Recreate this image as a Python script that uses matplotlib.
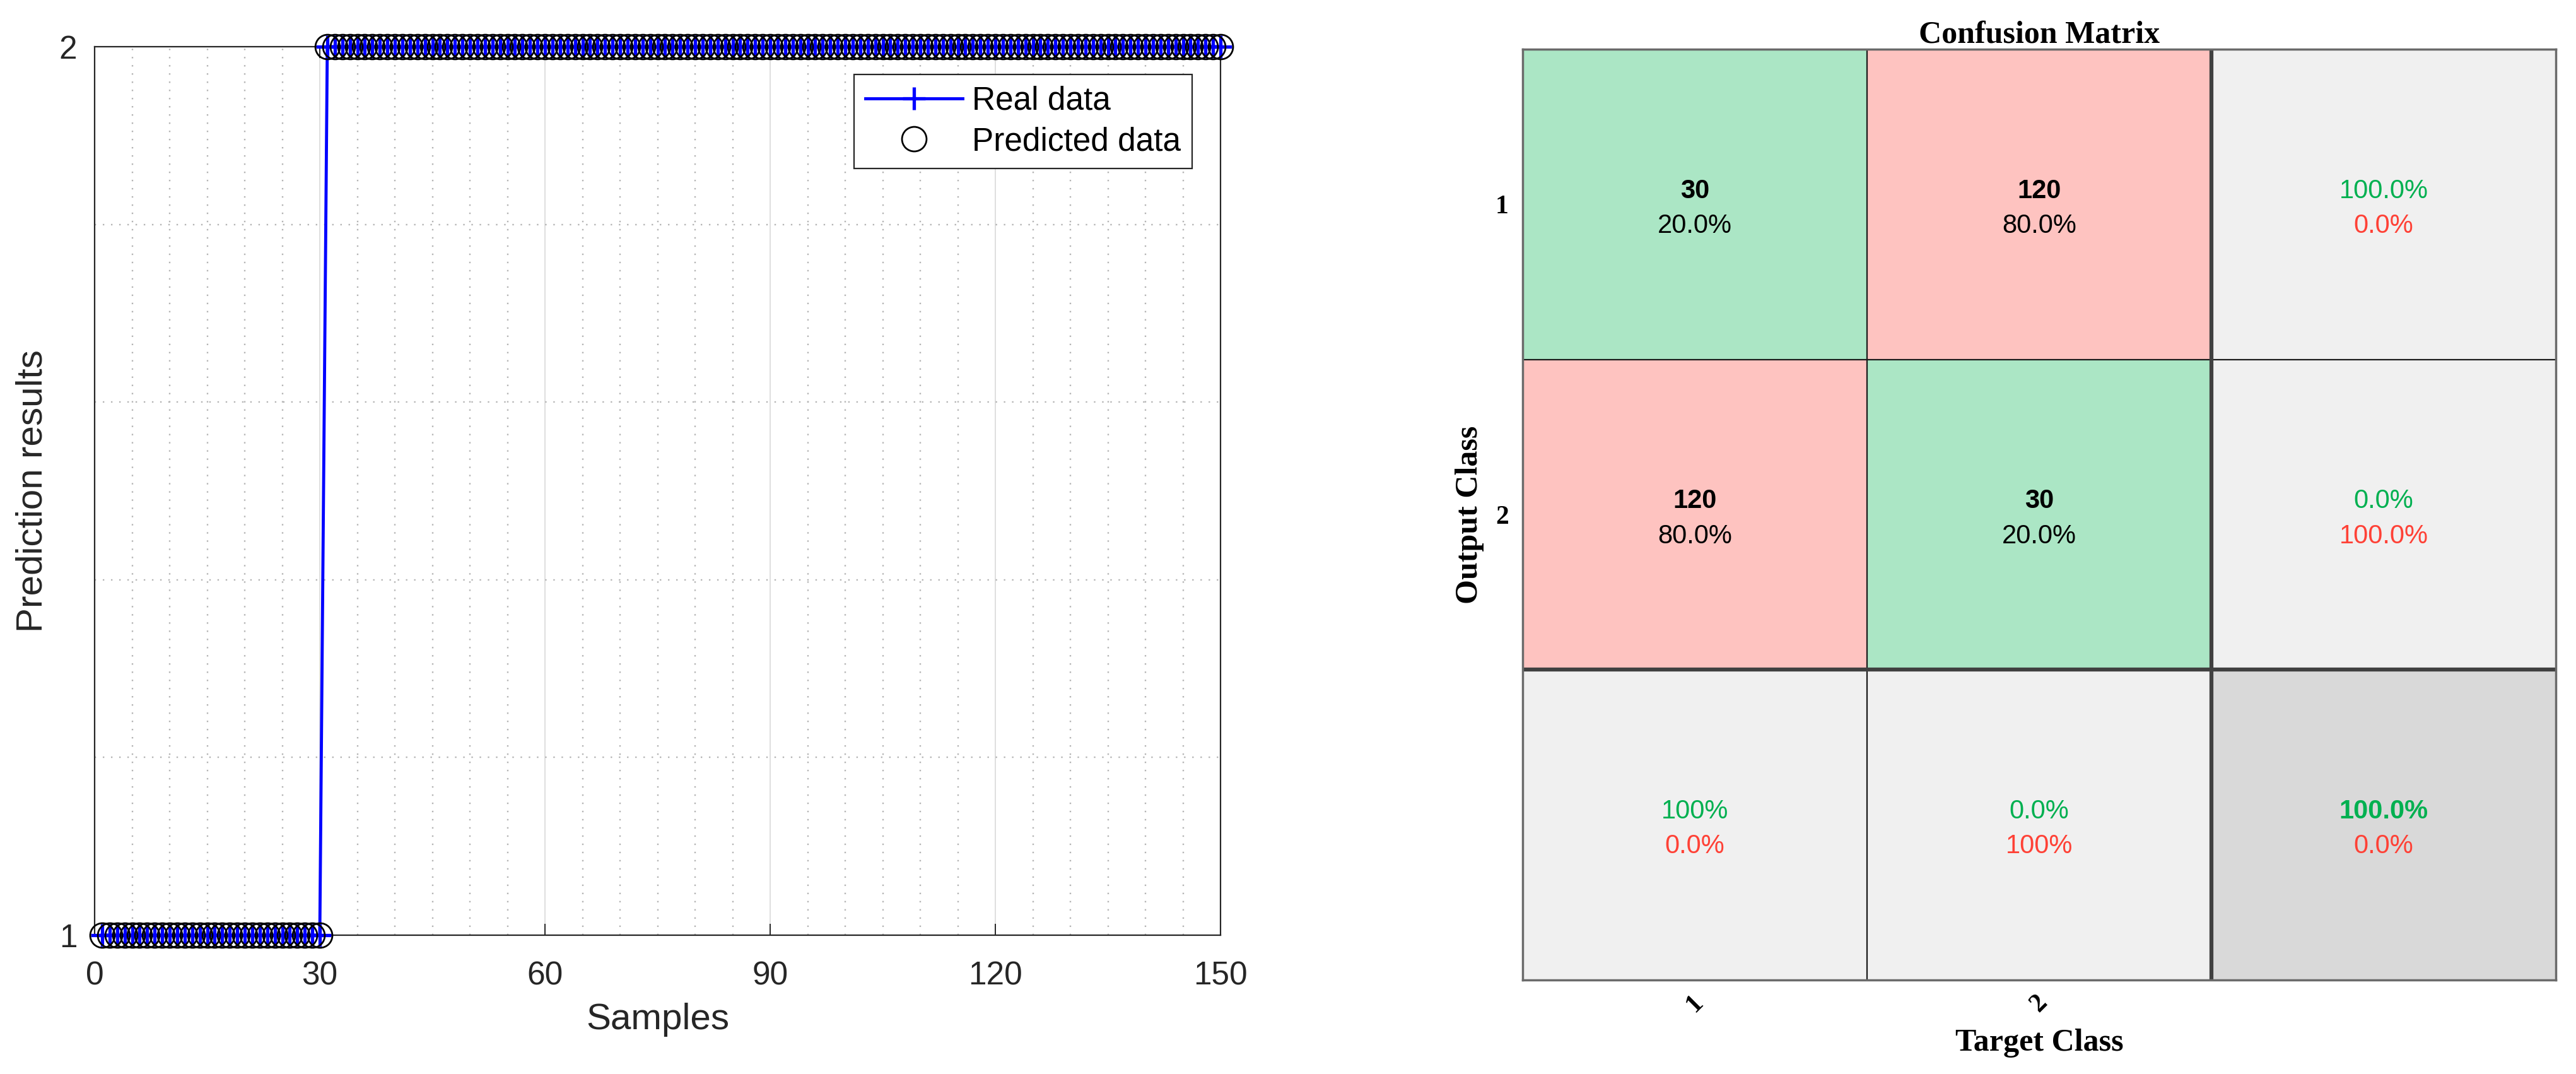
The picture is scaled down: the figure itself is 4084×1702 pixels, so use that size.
import numpy as np
import matplotlib
matplotlib.use("Agg")
import matplotlib.pyplot as plt
from matplotlib.colors import ListedColormap
from matplotlib.ticker import MultipleLocator, FixedLocator

# ---------------- data ----------------
samples = np.arange(1, 151)
real_data = np.repeat([1, 2], [30, 120])
predicted_data = np.repeat([1, 2], [30, 120])
x_ticks = [0, 30, 60, 90, 120, 150]
y_ticks = [1, 2]

class_labels = ["1", "2"]
cm_counts = [[30, 120], [120, 30]]
cm_percent = [["20.0%", "80.0%"], ["80.0%", "20.0%"]]
row_summary_good = ["100.0%", "0.0%"]
row_summary_bad = ["0.0%", "100.0%"]
col_summary_good = ["100%", "0.0%"]
col_summary_bad = ["0.0%", "100%"]
total_good = "100.0%"
total_bad = "0.0%"

SANS = ["Liberation Sans", "DejaVu Sans"]
SERIF = ["Liberation Serif", "DejaVu Serif"]
TXT = "#262626"
GREEN_BG = "#ABE6C5"
RED_BG = "#FEC3C0"
GRAY_BG = "#F0F0F0"
DGRAY_BG = "#D9D9D9"
GREEN_T = "#00B050"
RED_T = "#FF4136"

W, H = 4084, 1702
fig = plt.figure(figsize=(W / 100, H / 100), dpi=100)

# ---------------- left: prediction plot ----------------
ax = fig.add_axes([150 / W, 1 - 1482 / H, 1785 / W, (1482 - 74) / H])
ax.plot(samples, real_data, color="#0000FF", lw=3.5, marker="+", ms=26, mew=3.8,
        label="Real data", zorder=5, clip_on=False)
ax.plot(samples, predicted_data, ls="none", marker="o", ms=28, mfc="none", mec="black",
        mew=2.0, label="Predicted data", zorder=6, clip_on=False)
ax.set_xlim(0, 150)
ax.set_ylim(1, 2)
ax.xaxis.set_major_locator(FixedLocator(x_ticks))
ax.yaxis.set_major_locator(FixedLocator(y_ticks))
ax.xaxis.set_minor_locator(MultipleLocator(5))
ax.yaxis.set_minor_locator(MultipleLocator(0.2))
ax.grid(which="major", color="#DCDCDC", lw=1.3, ls="-")
ax.grid(which="minor", color="#B5B5B5", lw=1.7, ls=(0, (1, 4.5)))
ax.set_axisbelow(True)
ax.tick_params(which="major", direction="in", length=13, width=1.4, color=TXT,
               top=True, right=True, labelsize=37, labelcolor=TXT)
ax.tick_params(axis="x", which="major", pad=29)
ax.tick_params(axis="y", which="major", pad=20)
ax.tick_params(which="minor", length=0)
for lab in ax.get_xticklabels() + ax.get_yticklabels():
    lab.set_fontfamily(SANS)
for s in ax.spines.values():
    s.set_linewidth(1.6)
    s.set_color(TXT)
ax.set_xlabel("Samples", fontsize=42, color=TXT, family=SANS)
ax.set_ylabel("Prediction results", fontsize=42, color=TXT, family=SANS)
ax.xaxis.set_label_coords(0.5, -0.076)
ax.yaxis.set_label_coords(-0.0403, 0.5)
leg = ax.legend(loc="upper right", bbox_to_anchor=(0.975, 0.969), borderaxespad=0,
                prop={"family": SANS, "size": 37}, fancybox=False, framealpha=1,
                edgecolor=TXT, handlelength=3.0, handletextpad=0.3, labelspacing=0.3,
                borderpad=0.35)
leg.get_frame().set_linewidth(1.6)
leg.set_zorder(10)

# ---------------- right: confusion matrix ----------------
n = len(class_labels)
cat = np.full((n + 1, n + 1), 2)
for i in range(n):
    for j in range(n):
        cat[i, j] = 0 if i == j else 1
cat[n, n] = 3
cmap = ListedColormap([GREEN_BG, RED_BG, GRAY_BG, DGRAY_BG])

ax2 = fig.add_axes([2414 / W, 1 - 1553 / H, 1638 / W, 1475 / H])
ax2.imshow(cat, cmap=cmap, vmin=-0.5, vmax=3.5, extent=(0, n + 1, n + 1, 0),
           aspect="auto", interpolation="nearest")
ax2.set_xlim(0, n + 1)
ax2.set_ylim(n + 1, 0)

# grid lines
for k in range(1, n):
    ax2.axvline(k, color="#1a1a1a", lw=1.6)
    ax2.axhline(k, color="#1a1a1a", lw=1.6)
ax2.axvline(n, color="#404040", lw=4.5)
ax2.axhline(n, color="#404040", lw=4.5)
for s in ax2.spines.values():
    s.set_linewidth(2.5)
    s.set_color("#6A6A6A")

up, dn = -0.021, 0.092
cfs = 30
for i in range(n):
    for j in range(n):
        ax2.text(j + 0.5, i + 0.5 + up, str(cm_counts[i][j]), ha="center", va="baseline",
                 fontsize=cfs, fontweight="bold", color="black", family=SANS)
        ax2.text(j + 0.5, i + 0.5 + dn, cm_percent[i][j], ha="center", va="baseline",
                 fontsize=cfs, color="black", family=SANS)
    # row summary (right column)
    ax2.text(n + 0.5, i + 0.5 + up, row_summary_good[i], ha="center", va="baseline",
             fontsize=cfs, color=GREEN_T, family=SANS)
    ax2.text(n + 0.5, i + 0.5 + dn, row_summary_bad[i], ha="center", va="baseline",
             fontsize=cfs, color=RED_T, family=SANS)
    # column summary (bottom row)
    ax2.text(i + 0.5, n + 0.5 + up, col_summary_good[i], ha="center", va="baseline",
             fontsize=cfs, color=GREEN_T, family=SANS)
    ax2.text(i + 0.5, n + 0.5 + dn, col_summary_bad[i], ha="center", va="baseline",
             fontsize=cfs, color=RED_T, family=SANS)
ax2.text(n + 0.5, n + 0.5 + up, total_good, ha="center", va="baseline",
         fontsize=cfs, fontweight="bold", color=GREEN_T, family=SANS)
ax2.text(n + 0.5, n + 0.5 + dn, total_bad, ha="center", va="baseline",
         fontsize=cfs, color=RED_T, family=SANS)

ax2.set_xticks(np.arange(n) + 0.5)
ax2.set_yticks(np.arange(n) + 0.5)
ax2.set_xticklabels(class_labels, rotation=45, ha="center", fontsize=30,
                    fontweight="bold", family=SERIF)
ax2.set_yticklabels(class_labels, fontsize=30, fontweight="bold", family=SERIF)
ax2.tick_params(axis="both", length=0, colors="black")
ax2.tick_params(axis="x", pad=12)
ax2.tick_params(axis="y", pad=16)
ax2.set_title("Confusion Matrix", fontsize=36, fontweight="bold", family=SERIF, pad=5)
ax2.set_xlabel("Target Class", fontsize=36, fontweight="bold", family=SERIF)
ax2.set_ylabel("Output Class", fontsize=36, fontweight="bold", family=SERIF)
ax2.xaxis.set_label_coords(0.5, -0.052)
ax2.yaxis.set_label_coords(-0.037, 0.5)

fig.savefig("out.png", dpi=100, facecolor="white")
